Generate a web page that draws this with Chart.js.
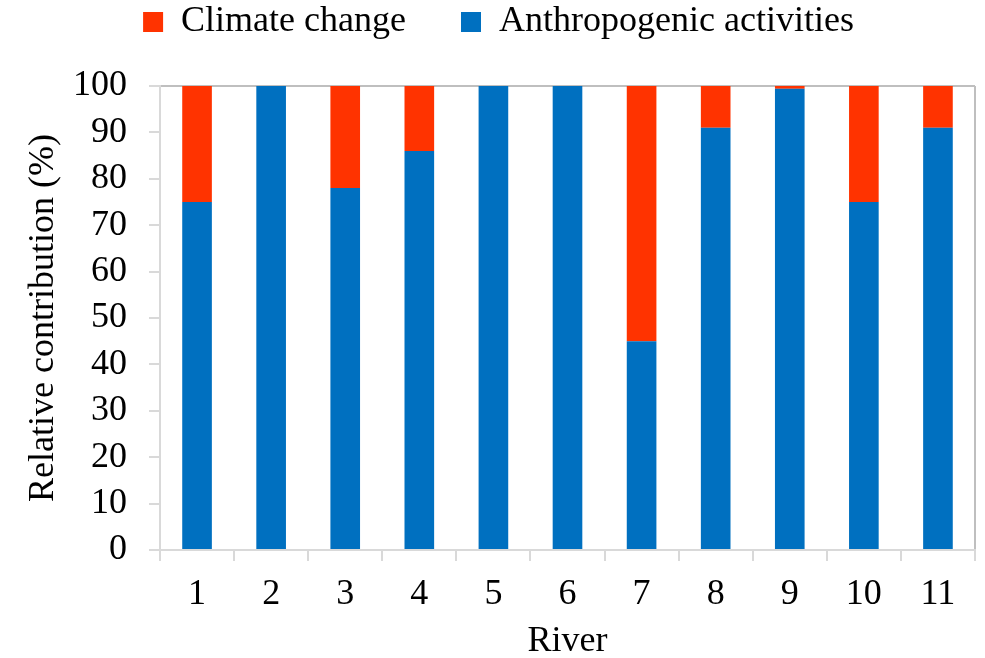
<!DOCTYPE html>
<html lang="en">
<head>
    <meta charset="UTF-8">
    <title>River contribution</title>
    <style>
        html, body { margin: 0; padding: 0; background: #fff; }
        #wrap { width: 985px; height: 658px; }
    </style>
</head>
<body>
    <div id="wrap"><canvas id="myChart"></canvas></div>
    <script src="https://cdn.jsdelivr.net/npm/chart.js"></script>
    <script>
        // data
        const rivers = ['1', '2', '3', '4', '5', '6', '7', '8', '9', '10', '11'];
        const anthropogenic = [75, 100, 78, 86, 100, 100, 45, 91, 99.4, 75, 91];
        const climate = [25, 0, 22, 14, 0, 0, 55, 9, 0.6, 25, 9];
        const yTicks = [0, 10, 20, 30, 40, 50, 60, 70, 80, 90, 100];

        const serif = { family: 'Liberation Serif', size: 36 };

        // legend padding is used both ways, so fix its height by hand
        const legendHeight = {
            id: 'legendHeight',
            afterInit(chart) {
                const legend = chart.legend;
                const fit = legend.fit;
                legend.fit = function () {
                    fit.call(this);
                    this.height = 137;
                };
            }
        };

        const ctx = document.getElementById('myChart');
        new Chart(ctx, {
            type: 'bar',
            data: {
                labels: rivers,
                datasets: [{
                    label: 'Anthropogenic activities',
                    data: anthropogenic,
                    backgroundColor: '#0070C0',
                    borderWidth: 0
                }, {
                    label: 'Climate change',
                    data: climate,
                    backgroundColor: '#FF3300',
                    borderWidth: 0
                }]
            },
            plugins: [legendHeight],
            options: {
                responsive: true,
                maintainAspectRatio: false,
                animation: false,
                categoryPercentage: 1,
                barPercentage: 0.4,
                layout: { padding: { left: 22, right: 10, top: -51, bottom: -5 } },
                plugins: {
                    tooltip: { enabled: false },
                    legend: {
                        position: 'top',
                        reverse: true,
                        labels: {
                            color: '#000',
                            font: serif,
                            boxWidth: 20,
                            boxHeight: 20,
                            padding: 55
                        }
                    }
                },
                scales: {
                    x: {
                        stacked: true,
                        afterFit: s => { s.height = 113; },
                        border: { color: '#d9d9d9', width: 2 },
                        grid: {
                            // only the right edge of the plot is drawn
                            color: c => c.type === 'scale' ? '#bfbfbf' : 'rgba(0,0,0,0)',
                            lineWidth: 2,
                            tickColor: '#d9d9d9',
                            tickLength: 11
                        },
                        ticks: { color: '#000', font: serif, padding: 12 },
                        title: {
                            display: true,
                            text: 'River',
                            color: '#000',
                            font: serif,
                            padding: { top: 0, bottom: 0 }
                        }
                    },
                    y: {
                        stacked: true,
                        min: 0,
                        max: 100,
                        afterBuildTicks: axis => { axis.ticks = yTicks.map(v => ({ value: v })); },
                        afterFit: s => { s.width = 138; },
                        border: { color: '#d9d9d9', width: 2 },
                        grid: {
                            // top frame line at 100
                            color: c => c.tick && c.tick.value === 100 ? '#bfbfbf' : 'rgba(0,0,0,0)',
                            lineWidth: 2,
                            tickColor: '#d9d9d9',
                            tickLength: 11
                        },
                        ticks: { color: '#000', font: serif, padding: 22, autoSkip: false },
                        title: {
                            display: true,
                            text: 'Relative contribution (%)',
                            color: '#000',
                            font: serif,
                            padding: { top: 0, bottom: 0 }
                        }
                    }
                }
            }
        });
    </script>
</body>
</html>
